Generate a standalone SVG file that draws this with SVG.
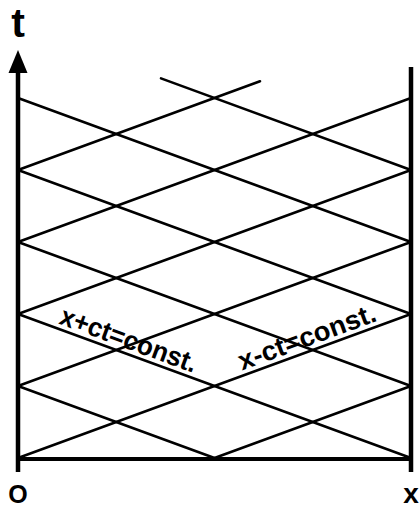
<svg xmlns="http://www.w3.org/2000/svg" width="419" height="509" viewBox="0 0 419 509">
<defs>
<style>
.ax{stroke:#000;stroke-width:4.5;fill:none;stroke-linecap:butt}
.ch{stroke:#000;stroke-width:2.6;fill:none;stroke-linecap:round}
.lb{font-family:"Liberation Sans",Arial,sans-serif;font-weight:bold;fill:#000}
</style>
</defs>
<rect width="419" height="509" fill="#fff"/>
<g id="axes">
<line class="ax" x1="18" y1="472" x2="18" y2="68"/>
<polygon points="18,50 8.5,73 27.5,73" fill="#000"/>
<line class="ax" x1="411" y1="472" x2="411" y2="67"/>
<line class="ax" x1="16" y1="459" x2="413" y2="459" style="stroke-width:3.8"/>
</g>
<g id="characteristics">
<line class="ch" x1="214.5" y1="458" x2="411" y2="386"/>
<line class="ch" x1="18" y1="458" x2="411" y2="314"/>
<line class="ch" x1="18" y1="386" x2="411" y2="242"/>
<line class="ch" x1="18" y1="314" x2="411" y2="170"/>
<line class="ch" x1="18" y1="242" x2="411" y2="98"/>
<line class="ch" x1="18" y1="170" x2="260" y2="81.3"/>
<line class="ch" x1="18" y1="98" x2="411" y2="242"/>
<line class="ch" x1="18" y1="170" x2="411" y2="314"/>
<line class="ch" x1="18" y1="242" x2="411" y2="386"/>
<line class="ch" x1="18" y1="314" x2="411" y2="458"/>
<line class="ch" x1="18" y1="386" x2="214.5" y2="458"/>
<line class="ch" x1="161" y1="78.4" x2="411" y2="170"/>
</g>
<g id="labels">
<text class="lb" x="18" y="37" font-size="41" text-anchor="middle">t</text>
<text class="lb" x="18" y="503" font-size="25" text-anchor="middle">O</text>
<text class="lb" x="411" y="503" font-size="28" text-anchor="middle">x</text>
<text class="lb" font-size="27" textLength="144" lengthAdjust="spacingAndGlyphs" transform="translate(58,323.4) rotate(20.12)">x+ct=const.</text>
<text class="lb" font-size="27" textLength="145" lengthAdjust="spacingAndGlyphs" transform="translate(242,370.5) rotate(-20.12)">x-ct=const.</text>
</g>
</svg>
